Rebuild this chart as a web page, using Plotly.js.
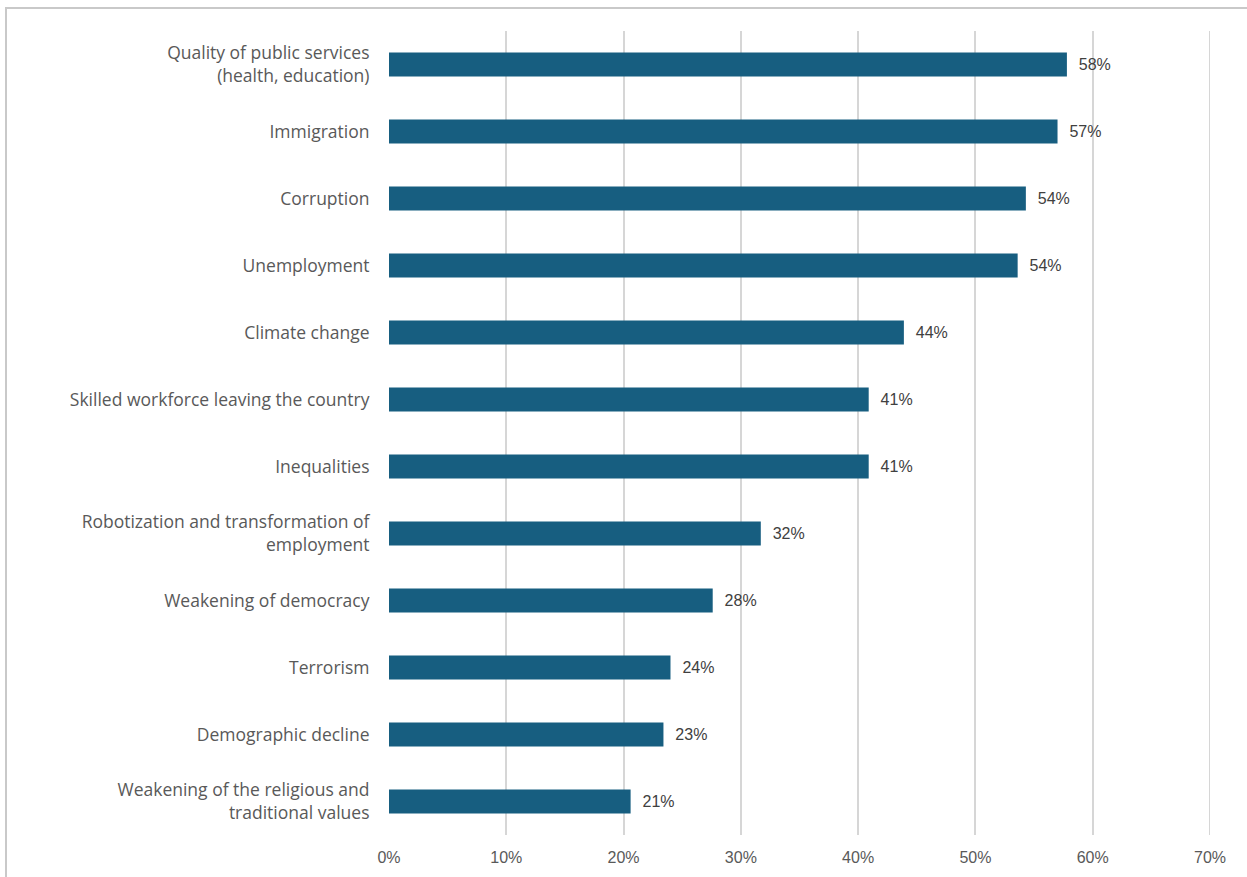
<!DOCTYPE html>
<html>
<head>
<meta charset="utf-8">
<script src="https://cdn.plot.ly/plotly-3.0.1.min.js"></script>
<style>
  html, body { margin: 0; padding: 0; background: #fff; overflow: hidden; }
  #chart { width: 1247px; height: 877px; }
  #frame { position: absolute; left: 5px; top: 7px; width: 1400px; height: 1000px;
           border: 2px solid #c9c9c9; pointer-events: none; box-sizing: border-box; }
</style>
</head>
<body>
<div id="chart"></div>
<div id="frame"></div>
<script>
const categories = [
  "Quality of public services<br>(health, education)",
  "Immigration",
  "Corruption",
  "Unemployment",
  "Climate change",
  "Skilled workforce leaving the country",
  "Inequalities",
  "Robotization and transformation of<br>employment",
  "Weakening of democracy",
  "Terrorism",
  "Demographic decline",
  "Weakening of the religious and<br>traditional values"
];
const values = [0.578, 0.570, 0.543, 0.536, 0.439, 0.409, 0.409, 0.317, 0.276, 0.240, 0.234, 0.206];
const xTicks = [0, 0.1, 0.2, 0.3, 0.4, 0.5, 0.6, 0.7];

const trace = {
  type: 'bar',
  orientation: 'h',
  y: categories,
  x: values,
  marker: { color: '#175e80' },
  width: 0.36,
  texttemplate: '\u00a0\u00a0%{x:.0%}',
  textposition: 'outside',
  cliponaxis: false,
  textfont: { family: 'Liberation Sans, Arial, sans-serif', size: 16, color: '#404040' },
  hoverinfo: 'skip'
};

const xMax = xTicks[xTicks.length - 1];

const layout = {
  width: 1247,
  height: 877,
  margin: { l: 389, r: 37, t: 31, b: 42 },
  paper_bgcolor: '#ffffff',
  plot_bgcolor: '#ffffff',
  showlegend: false,
  shapes: [{
    type: 'line', xref: 'x', yref: 'paper',
    x0: xMax, x1: xMax, y0: 0, y1: 1,
    line: { color: '#d6d6d6', width: 2 },
    layer: 'below'
  }],
  xaxis: {
    range: [0, xMax],
    tickvals: xTicks,
    tickformat: '.0%',
    showgrid: true,
    gridcolor: '#d6d6d6',
    gridwidth: 2,
    zeroline: false,
    showline: false,
    ticks: 'outside',
    ticklen: 8,
    tickcolor: 'rgba(0,0,0,0)',
    tickfont: { family: 'Liberation Sans, Arial, sans-serif', size: 16, color: '#595959' },
    fixedrange: true
  },
  yaxis: {
    autorange: 'reversed',
    showgrid: false,
    zeroline: false,
    showline: false,
    ticks: 'outside',
    ticklen: 15,
    tickcolor: 'rgba(0,0,0,0)',
    tickfont: { family: 'Open Sans, Noto Sans, sans-serif', size: 17.5, color: '#595959' },
    fixedrange: true
  }
};

Plotly.newPlot('chart', [trace], layout, { displayModeBar: false, staticPlot: true });
</script>
</body>
</html>
